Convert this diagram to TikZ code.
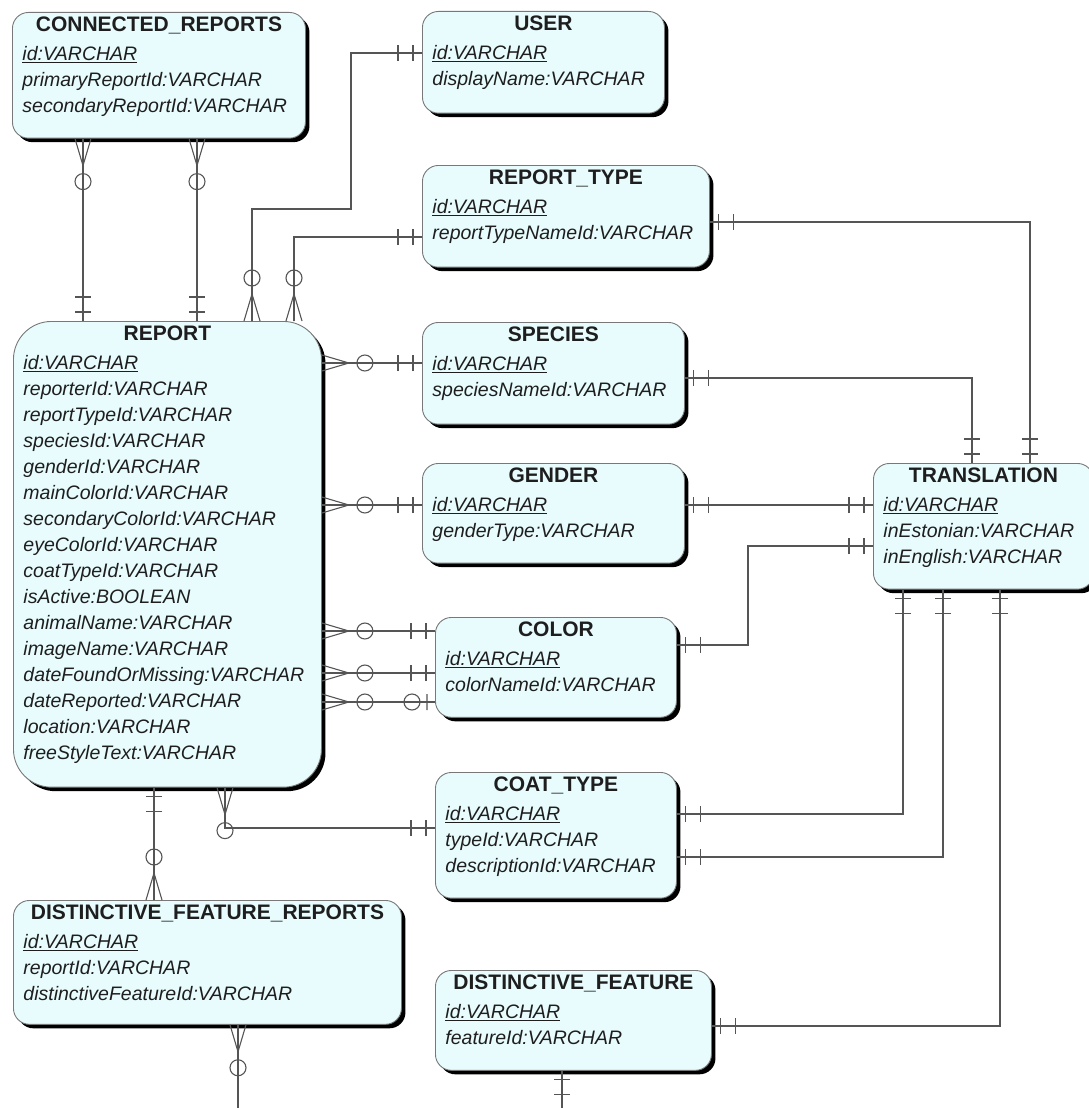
\documentclass[tikz,border=0pt]{standalone}
\usepackage{fontspec}
\setmainfont{Liberation Sans}
\usepackage{xcolor}
\usetikzlibrary{shadows,calc}

\definecolor{entfill}{RGB}{232,252,253}
\definecolor{entline}{RGB}{120,120,120}
\definecolor{relline}{RGB}{85,85,85}
\definecolor{enttext}{RGB}{30,30,30}

\newcommand{\etitle}[1]{\hfill{\fontsize{21}{25}\selectfont\bfseries\upshape #1}\hfill\null\\[3pt]}
\newcommand{\pk}[1]{\underline{#1}}
\newcommand{\eend}[1][19pt]{\par\nointerlineskip\vbox to #1{}}

\tikzset{
  entity/.style={draw=entline, line width=0.9pt, fill=entfill, rounded corners=16pt,
    anchor=north west, align=left, inner xsep=10pt, inner ysep=4.5pt,
    text=enttext, font=\fontsize{19.5}{26}\selectfont\itshape,
    drop shadow={shadow xshift=4pt, shadow yshift=-4pt, fill=black, opacity=1}},
  rel/.style={draw=relline, line width=1.1pt},
  many0/.pic={\draw[rel] (0,-8) -- (27,0) (0,0) -- (27,0) (0,8) -- (27,0) (43,0) circle (8);},
  one1/.pic={\draw[rel] (9,-8) -- (9,8) (24,-8) -- (24,8);},
  one0/.pic={\draw[rel] (8,-8) -- (8,8) (23,0) circle (8);}
}

\begin{document}
\begin{tikzpicture}[x=1pt, y=-1pt]
\useasboundingbox (0,0) rectangle (1089,1108);
\clip (0,0) rectangle (1089,1108);
% nodes
\node[entity, text width=273pt] (cr) at (12,12) {\etitle{CONNECTED\_REPORTS}%
  \pk{id:VARCHAR}\\ primaryReportId:VARCHAR\\ secondaryReportId:VARCHAR\eend[17pt]};
\node[entity, text width=222pt] (user) at (422,11) {\etitle{USER}%
  \pk{id:VARCHAR}\\ displayName:VARCHAR\eend};
\node[entity, text width=267pt] (rtype) at (422,165) {\etitle{REPORT\_TYPE}%
  \pk{id:VARCHAR}\\ reportTypeNameId:VARCHAR\eend};
\node[entity, text width=288pt, rounded corners=38pt] (report) at (13,321) {\etitle{REPORT}%
  \pk{id:VARCHAR}\\ reporterId:VARCHAR\\ reportTypeId:VARCHAR\\ speciesId:VARCHAR\\
  genderId:VARCHAR\\ mainColorId:VARCHAR\\ secondaryColorId:VARCHAR\\ eyeColorId:VARCHAR\\
  coatTypeId:VARCHAR\\ isActive:BOOLEAN\\ animalName:VARCHAR\\ imageName:VARCHAR\\
  dateFoundOrMissing:VARCHAR\\ dateReported:VARCHAR\\ location:VARCHAR\\ freeStyleText:VARCHAR\eend};
\node[entity, text width=242pt] (species) at (422,322) {\etitle{SPECIES}%
  \pk{id:VARCHAR}\\ speciesNameId:VARCHAR\eend};
\node[entity, text width=242pt] (gender) at (422,463) {\etitle{GENDER}%
  \pk{id:VARCHAR}\\ genderType:VARCHAR\eend[17pt]};
\node[entity, text width=221pt] (color) at (435,617) {\etitle{COLOR}%
  \pk{id:VARCHAR}\\ colorNameId:VARCHAR\eend[21pt]};
\node[entity, text width=221pt] (coat) at (435,772) {\etitle{COAT\_TYPE}%
  \pk{id:VARCHAR}\\ typeId:VARCHAR\\ descriptionId:VARCHAR\eend[17pt]};
\node[entity, text width=368pt] (dfr) at (13,900) {\etitle{DISTINCTIVE\_FEATURE\_REPORTS}%
  \pk{id:VARCHAR}\\ reportId:VARCHAR\\ distinctiveFeatureId:VARCHAR\eend};
\node[entity, text width=256pt] (df) at (435,970) {\etitle{DISTINCTIVE\_FEATURE}%
  \pk{id:VARCHAR}\\ featureId:VARCHAR\eend[21pt]};
\node[entity, text width=200pt] (trans) at (873,463) {\etitle{TRANSLATION}%
  \pk{id:VARCHAR}\\ inEstonian:VARCHAR\\ inEnglish:VARCHAR\eend[17pt]};
\coordinate (dfrout) at (238,1108);
\coordinate (dfout) at (562,1108);

% edges
\draw[rel] (cr.south -| 83,0) pic[rotate=-90]{many0} -- (report.north -| 83,0) pic[rotate=90]{one1};
\draw[rel] (cr.south -| 197,0) pic[rotate=-90]{many0} -- (report.north -| 197,0) pic[rotate=90]{one1};
\draw[rel] (report.north -| 252,0) pic[rotate=90]{many0} |- (351,209) |- (user.west |- 0,53) pic[rotate=180]{one1};
\draw[rel] (report.north -| 294,0) pic[rotate=90]{many0} |- (rtype.west |- 0,237) pic[rotate=180]{one1};
\draw[rel] (rtype.east |- 0,222) pic{one1} -| (trans.north -| 1030,0) pic[rotate=90]{one1};
\draw[rel] (report.east |- 0,363) pic{many0} -- (species.west |- 0,363) pic[rotate=180]{one1};
\draw[rel] (species.east |- 0,378) pic{one1} -| (trans.north -| 972,0) pic[rotate=90]{one1};
\draw[rel] (report.east |- 0,505) pic{many0} -- (gender.west |- 0,505) pic[rotate=180]{one1};
\draw[rel] (gender.east |- 0,505) pic{one1} -- (trans.west |- 0,505) pic[rotate=180]{one1};
\draw[rel] (report.east |- 0,631) pic{many0} -- (color.west |- 0,631) pic[rotate=180]{one1};
\draw[rel] (report.east |- 0,673) pic{many0} -- (color.west |- 0,673) pic[rotate=180]{one1};
\draw[rel] (report.east |- 0,702) pic{many0} -- (color.west |- 0,702) pic[rotate=180]{one0};
\draw[rel] (color.east |- 0,645) pic{one1} -| (748,546) -- (trans.west |- 0,546) pic[rotate=180]{one1};
\draw[rel] (report.south -| 225,0) pic[rotate=-90]{many0} |- (coat.west |- 0,828) pic[rotate=180]{one1};
\draw[rel] (coat.east |- 0,814) pic{one1} -| (trans.south -| 903,0) pic[rotate=-90]{one1};
\draw[rel] (coat.east |- 0,857) pic{one1} -| (trans.south -| 943,0) pic[rotate=-90]{one1};
\draw[rel] (df.east |- 0,1026) pic{one1} -| (trans.south -| 1000,0) pic[rotate=-90]{one1};
\draw[rel] (report.south -| 154,0) pic[rotate=-90]{one1} -- (dfr.north -| 154,0) pic[rotate=90]{many0};
\draw[rel] (dfr.south -| 238,0) pic[rotate=-90]{many0} -- (dfrout);
\draw[rel] (df.south -| 562,0) pic[rotate=-90]{one1} -- (dfout);
\end{tikzpicture}
\end{document}
